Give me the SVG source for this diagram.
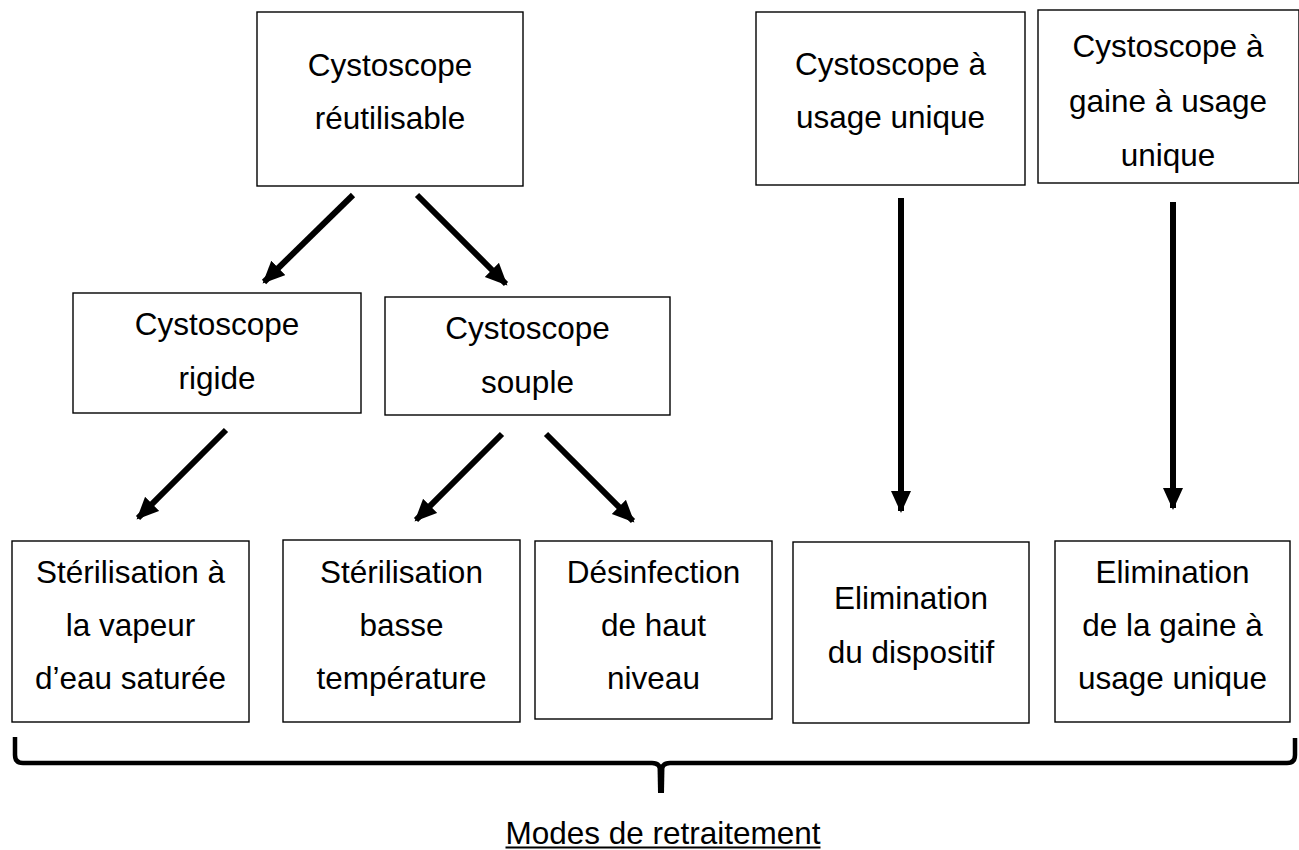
<svg xmlns="http://www.w3.org/2000/svg" width="1299" height="850" viewBox="0 0 1299 850">
<style>
.box{fill:#fff;stroke:#000;stroke-width:1.4}
.t{font-family:"Liberation Sans",Arial,sans-serif;font-size:31.5px;fill:#000;text-anchor:middle}
.ar{stroke:#000;stroke-width:6;fill:none}
.brace{stroke:#000;stroke-width:4.5;fill:none;stroke-linejoin:round}
</style>
<defs>
<marker id="ah" markerUnits="userSpaceOnUse" markerWidth="24" markerHeight="22" refX="20" refY="10" orient="auto">
<path d="M0,0 L22,10 L0,20 Z" fill="#000"/>
</marker>
</defs>
<rect width="1299" height="850" fill="#fff"/>
<g id="connectors">
<line class="ar" x1="353" y1="195" x2="264" y2="282" marker-end="url(#ah)"/>
<line class="ar" x1="417" y1="195" x2="506" y2="284" marker-end="url(#ah)"/>
<line class="ar" x1="226" y1="430" x2="138" y2="518" marker-end="url(#ah)"/>
<line class="ar" x1="502" y1="434" x2="416" y2="520" marker-end="url(#ah)"/>
<line class="ar" x1="546" y1="434" x2="633" y2="521" marker-end="url(#ah)"/>
<line class="ar" x1="901" y1="198" x2="901" y2="511" marker-end="url(#ah)"/>
<line class="ar" x1="1173" y1="202" x2="1173" y2="508" marker-end="url(#ah)"/>
</g>
<g id="n1"><rect class="box" x="257" y="12" width="266" height="174"/>
<text class="t" x="390" y="76">Cystoscope</text><text class="t" x="390" y="129">réutilisable</text></g>
<g id="n2"><rect class="box" x="756" y="12" width="269" height="173"/>
<text class="t" x="890.5" y="75">Cystoscope à</text><text class="t" x="890.5" y="128">usage unique</text></g>
<g id="n3"><rect class="box" x="1038" y="10" width="261" height="173"/>
<text class="t" x="1168" y="57">Cystoscope à</text><text class="t" x="1168" y="112">gaine à usage</text><text class="t" x="1168" y="166">unique</text></g>
<g id="n4"><rect class="box" x="73" y="293" width="288" height="120"/>
<text class="t" x="217" y="335">Cystoscope</text><text class="t" x="217" y="389">rigide</text></g>
<g id="n5"><rect class="box" x="385" y="297" width="285" height="118"/>
<text class="t" x="527.5" y="339">Cystoscope</text><text class="t" x="527.5" y="393">souple</text></g>
<g id="n6"><rect class="box" x="12" y="541" width="237" height="181"/>
<text class="t" x="130.5" y="583">Stérilisation à</text><text class="t" x="130.5" y="636">la vapeur</text><text class="t" x="130.5" y="689">d’eau saturée</text></g>
<g id="n7"><rect class="box" x="283" y="540" width="237" height="182"/>
<text class="t" x="401.5" y="583">Stérilisation</text><text class="t" x="401.5" y="636">basse</text><text class="t" x="401.5" y="689">température</text></g>
<g id="n8"><rect class="box" x="535" y="541" width="237" height="178"/>
<text class="t" x="653.5" y="583">Désinfection</text><text class="t" x="653.5" y="636">de haut</text><text class="t" x="653.5" y="689">niveau</text></g>
<g id="n9"><rect class="box" x="793" y="542" width="236" height="181"/>
<text class="t" x="911" y="609">Elimination</text><text class="t" x="911" y="663">du dispositif</text></g>
<g id="n10"><rect class="box" x="1055" y="541" width="235" height="181"/>
<text class="t" x="1172.5" y="583">Elimination</text><text class="t" x="1172.5" y="636">de la gaine à</text><text class="t" x="1172.5" y="689">usage unique</text></g>
<g id="brace">
<path class="brace" d="M15,737 L15,755 Q15,763 23,763 L652,763 Q660,763 661,771 Q662,763 670,763 L1287,763 Q1295,763 1295,755 L1295,738"/>
<path d="M657.5,766 L664.5,766 L664,793 L658,793 Z" fill="#000"/>
</g>
<g id="label">
<text class="t" x="663" y="844">Modes de retraitement</text>
<line x1="505.5" y1="847.5" x2="820.5" y2="847.5" stroke="#000" stroke-width="2"/>
</g>
</svg>
